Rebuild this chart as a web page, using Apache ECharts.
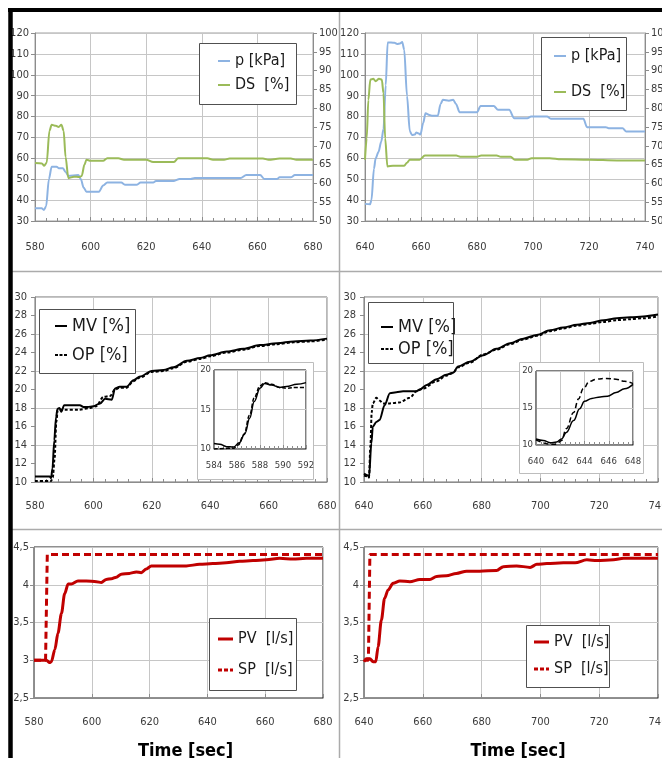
<!DOCTYPE html>
<html><head><meta charset="utf-8">
<script src="https://cdn.jsdelivr.net/npm/echarts@6/dist/echarts.min.js"></script>
<style>html,body{margin:0;padding:0;background:#fff}#c{width:662px;height:758px}</style>
</head><body><div id="c"></div>
<script>
// ---------- DATA ----------
// Top-left: pressure p [kPa] (left axis) and DS [%] (right axis), t = 580..680 s
const pLeft = [[580,36.1],[582.4,36.1],[583.2,35.3],[584,37],[585,50],[586,56],[587.8,56],[588.5,55.3],[590,55.3],[591,53.5],[592,51.6],[595.6,52],[596.5,50],[597.5,46],[598.5,44],[603,44],[604.5,47],[606,48.4],[611,48.4],[612.5,47.3],[616.5,47.3],[618,48.4],[622.5,48.4],[623.5,49.2],[630,49.2],[632,50.1],[636,50.1],[637.5,50.6],[654,50.6],[656,52],[661,52],[662.5,50.1],[667,50.1],[668,50.9],[672,50.9],[673.5,52],[680,52]];
const dsLeft = [[580,65.4],[582.5,65.3],[583.3,64.7],[584.2,65.5],[585.2,74],[586,75.6],[587.5,75.3],[588.5,75],[589.5,75.6],[590.3,74],[591,67],[592,61.4],[594,61.8],[596,61.7],[596.8,62],[597.8,65],[598.5,66.3],[600,66],[604.5,66],[606,66.7],[610,66.7],[612,66.3],[620,66.3],[622.5,65.7],[630,65.7],[631.5,66.7],[642,66.7],[644,66.3],[648,66.3],[650,66.6],[662,66.6],[664,66.3],[668,66.6],[672,66.6],[674,66.3],[680,66.3]];
// Top-right: t = 640..740 s
const pRight = [[640,38.2],[641.8,38],[642.3,40],[643.2,55],[643.8,60],[644.8,63],[645.8,68],[646.6,74],[647.4,95],[648.1,115.5],[650.5,115.3],[651.5,114.7],[652.5,115],[653.3,115.7],[654,112],[655,90],[656,73],[656.8,71.2],[657.8,71.4],[658.3,72.4],[659,72],[659.8,71.4],[660.8,77],[661.6,81.6],[663,80.8],[664,80.4],[666,80.4],[667,86],[667.8,88],[670,87.6],[671.5,88],[672.5,86],[673.8,82.1],[680,82.1],[681.3,85.1],[686,85.1],[687.5,83.2],[691.5,83.2],[693.3,79.2],[698,79.2],[699.3,80],[705,80],[706.5,78.9],[718,78.9],[719.3,74.9],[726,74.9],[727,74.4],[732,74.4],[733.3,72.8],[740,72.8]];
const dsRight = [[640,66.3],[640.6,72],[641.2,82.2],[641.9,87.6],[643,87.8],[643.8,87.2],[645,87.8],[646,87.6],[646.6,84],[647.2,72],[648,64.5],[650,64.7],[654,64.7],[655,65.5],[656,66.3],[659.5,66.3],[661.4,67.4],[672.6,67.4],[674,67.1],[680,67.1],[681.5,67.4],[687,67.4],[688.5,67.1],[692,67.1],[693.5,66.3],[698,66.3],[699.5,66.7],[706,66.7],[710,66.4],[720,66.3],[730,66.1],[740,66.1]];
// Middle: MV [%] and OP [%]
const mvLeft = [[580,10.6],[585,10.6],[585.5,10.4],[586,11.5],[586.6,14.5],[587.2,17],[587.7,17.9],[588.4,18],[589,17.6],[590,18.3],[595.4,18.3],[596.6,18.1],[598,18.1],[600,18.2],[602.3,18.5],[604,19],[606.3,18.9],[607.4,20.1],[609,20.3],[611.4,20.3],[613.7,21],[616,21.4],[620,22],[624,22.1],[627.4,22.4],[632,23.1],[636.6,23.4],[640,23.7],[645.7,24.1],[651.4,24.4],[657,24.8],[662.9,25],[668.6,25.2],[674.3,25.3],[680,25.5]];
const opLeft = [[580,10.1],[585.5,10.1],[586.1,10.5],[586.7,12.5],[587.3,16.5],[587.8,17.8],[590,17.8],[595,17.8],[598.9,18],[601,18.2],[603.4,19.2],[605.7,19.3],[607.4,20],[609,20.2],[611.4,20.2],[613.7,20.9],[616,21.3],[620,21.9],[624,22],[627.4,22.3],[632,23],[636.6,23.3],[640,23.6],[645.7,24],[651.4,24.3],[657,24.7],[662.9,24.9],[668.6,25.1],[674.3,25.2],[680,25.4]];
const mvRight = [[640,10.9],[641.4,10.7],[641.7,10.5],[642.5,14.2],[643,16],[644.2,16.5],[645.3,16.7],[647,18.3],[648.8,19.6],[651,19.7],[653.3,19.8],[657.8,19.8],[659,20],[661.3,20.5],[664.7,21.1],[668,21.6],[670.3,21.8],[672,22.5],[676,23],[680.6,23.7],[685,24.4],[689.7,25],[694.2,25.5],[698.8,25.9],[703.3,26.4],[707.8,26.7],[712.4,27],[716.9,27.2],[721.5,27.5],[726,27.7],[730.6,27.8],[735,27.9],[740,28.1]];
const opRight = [[640,10.7],[641.4,10.6],[641.7,10.5],[642.2,14],[642.6,17.5],[643,18.5],[644.2,19.1],[645.3,18.8],[646.5,18.5],[648.8,18.5],[652,18.6],[655.6,19.1],[657.8,19.8],[660,20.1],[664.7,20.9],[668,21.5],[670.3,21.8],[672,22.4],[676,22.9],[680.6,23.8],[685,24.3],[689.7,24.9],[694.2,25.4],[698.8,25.8],[703.3,26.3],[707.8,26.6],[712.4,26.9],[716.9,27.1],[721.5,27.3],[726,27.5],[730.6,27.6],[735,27.7],[740,27.9]];
// Insets (zoom on the step)
const mvInsetL = [[584,10.7],[584.5,10.6],[585.1,10.3],[585.7,10.25],[586.2,10.8],[586.7,12],[587.1,13.9],[587.5,16],[588,17.7],[588.4,18.3],[589,18.1],[589.7,17.8],[590.3,17.9],[591.2,18.2],[592,18.4]];
const opInsetL = [[584,10],[585.7,10.1],[586.1,10.5],[586.6,11.8],[587.1,14.3],[587.5,16.5],[588,18],[588.4,18.4],[589,18.2],[589.7,17.8],[590.3,17.7],[591.2,17.8],[592,17.8]];
const mvInsetR = [[640,10.8],[640.6,10.6],[641.2,10.3],[641.7,10.4],[642.1,10.8],[642.5,11.7],[643.1,13.3],[643.6,14.9],[644,15.9],[644.6,16.3],[645.3,16.5],[645.9,16.6],[646.6,17.1],[647.3,17.6],[648,18.2]];
const opInsetR = [[640,10.7],[641.2,10.1],[641.7,10.1],[642.1,10.6],[642.5,12.2],[643.1,14.4],[643.5,16.2],[643.9,17.6],[644.4,18.6],[645,18.9],[645.8,19],[646.6,18.9],[647.3,18.6],[648,18.3]];
// Bottom: PV [l/s] and SP [l/s]
const pvLeft = [[580,3.0],[584.3,3.0],[585.4,2.97],[586,2.98],[587.2,3.14],[588.3,3.36],[589.5,3.62],[590.6,3.88],[591.8,4.01],[592.9,4.01],[595.2,4.05],[598.1,4.05],[601.6,4.04],[603.3,4.03],[605,4.07],[606.8,4.08],[608.5,4.1],[610.2,4.14],[613,4.15],[615.4,4.17],[617.1,4.16],[618.9,4.21],[620.6,4.25],[623.5,4.25],[628.1,4.25],[632.7,4.25],[637.3,4.27],[641.9,4.28],[646.5,4.29],[651.2,4.31],[655.8,4.32],[660.4,4.33],[665,4.35],[669.6,4.34],[674.2,4.35],[680,4.35]];
const spLeft = [[580,3.0],[584,3.0],[584.6,4.4],[680,4.4]];
const pvRight = [[640,2.98],[640.8,3.02],[642,3.02],[643.1,2.98],[644,2.98],[644.8,3.18],[645.9,3.53],[647,3.82],[648.2,3.93],[649.9,4.02],[652.2,4.05],[655.6,4.04],[659,4.07],[662.4,4.07],[664.7,4.11],[668,4.12],[671.4,4.15],[674.9,4.18],[679.4,4.18],[685.1,4.19],[687.4,4.24],[691.9,4.25],[696.5,4.23],[698.8,4.27],[702.2,4.28],[707.8,4.29],[711.8,4.29],[715.8,4.33],[719.2,4.32],[724.9,4.33],[728.3,4.35],[732.8,4.35],[740,4.35]];
const spRight = [[640,3.0],[641.5,3.0],[642,4.4],[740,4.4]];
// Series names / axis texts
const namesTop = ['p [kPa]', 'DS  [%]'];
const namesMid = ['MV [%]', 'OP [%]'];
const namesBot = ['PV  [l/s]', 'SP  [l/s]'];
const xAxisTitle = 'Time [sec]';

// ---------- STYLE / LAYOUT ----------
const F = '"DejaVu Sans Condensed","Liberation Sans Narrow",sans-serif';
const LBL = {fontFamily: F, fontSize: 11, color: '#3a3a3a'};
const AX = '#8c8c8c', GRIDC = '#c6c6c6';

function xAx(gi, min, max, step, margin, minor, extra) {
  return Object.assign({
    type: 'value', gridIndex: gi, min: min, max: max, interval: step,
    axisLine: {show: true, onZero: false, lineStyle: {color: AX}},
    axisTick: {show: true, inside: true, length: 4, lineStyle: {color: AX}},
    minorTick: {show: minor, splitNumber: 5, length: 3, lineStyle: {color: AX}},
    splitLine: {show: true, lineStyle: {color: GRIDC}},
    axisLabel: Object.assign({}, LBL, {margin: margin})
  }, extra || {});
}
function yAx(gi, min, max, step, pos, split, margin, extra) {
  return Object.assign({
    type: 'value', gridIndex: gi, min: min, max: max, interval: step, position: pos,
    axisLine: {show: true, onZero: false, lineStyle: {color: AX}},
    axisTick: {show: true, inside: false, length: 4, lineStyle: {color: AX}},
    splitLine: {show: split, lineStyle: {color: GRIDC}},
    axisLabel: Object.assign({}, LBL, {margin: margin})
  }, extra || {});
}
// hidden axis used only for gridlines (every 4 units on the MV/OP panels)
function gridOnlyY(gi, min, max, step) {
  return {type: 'value', gridIndex: gi, min: min, max: max, interval: step, position: 'left',
    axisLine: {show: false}, axisTick: {show: false}, axisLabel: {show: false},
    splitLine: {show: true, lineStyle: {color: GRIDC}}};
}
function ln(name, data, xi, yi, color, width, dash, smooth, z) {
  return {type: 'line', name: name, data: data, xAxisIndex: xi, yAxisIndex: yi,
    symbol: 'none', smooth: smooth, smoothMonotone: 'x', animation: false, z: z || 3,
    lineStyle: {color: color, width: width, type: dash || 'solid'}, itemStyle: {color: color}};
}
const BLUE = '#8db3e2', GREEN = '#9bbb59', RED = '#c00000';
const commaFmt = v => String(v).replace('.', ',');

const grids = [
  {left: 35, top: 33, width: 278, height: 188, borderColor: '#a0a0a0'},
  {left: 365, top: 33, width: 280, height: 188, borderColor: '#a0a0a0'},
  {left: 35, top: 297, width: 292, height: 185, borderColor: '#707070'},
  {left: 364, top: 297, width: 294, height: 185, borderColor: '#707070'},
  {left: 34, top: 547, width: 289, height: 151, borderColor: '#202020'},
  {left: 364, top: 547, width: 294, height: 151, borderColor: '#202020'},
  {left: 214, top: 370, width: 92, height: 79, borderColor: '#000', z: 20},
  {left: 536, top: 371, width: 97, height: 74, borderColor: '#000', z: 20}
].map(g => Object.assign({show: true, borderWidth: 1, backgroundColor: 'transparent',
  containLabel: false, outerBoundsMode: 'none'}, g));

const timeName = {name: xAxisTitle, nameLocation: 'middle', nameGap: 44,
  nameTextStyle: {fontFamily: F, fontSize: 18, fontWeight: 'bold', color: '#000', padding: [0, 0, 0, 14]}};
const inLbl = {fontFamily: F, fontSize: 9.5, color: '#3a3a3a'};

const xAxes = [
  xAx(0, 580, 680, 20, 21, true),
  xAx(1, 640, 740, 20, 21, true),
  xAx(2, 580, 680, 20, 19, true),
  xAx(3, 640, 740, 20, 19, true),
  xAx(4, 580, 680, 20, 19, false, timeName),
  xAx(5, 640, 740, 20, 19, false, timeName),
  xAx(6, 584, 592, 2, 12, true, {z: 21, axisLabel: Object.assign({}, inLbl, {margin: 12})}),
  xAx(7, 640, 648, 2, 12, true, {z: 21, axisLabel: Object.assign({}, inLbl, {margin: 12})})
];
const yAxes = [
  yAx(0, 30, 120, 10, 'left', true, 6),
  yAx(0, 50, 100, 5, 'right', false, 6),
  yAx(1, 30, 120, 10, 'left', true, 6),
  yAx(1, 50, 100, 5, 'right', false, 6),
  yAx(2, 10, 30, 2, 'left', false, 8),
  yAx(3, 10, 30, 2, 'left', false, 8),
  yAx(4, 2.5, 4.5, 0.5, 'left', true, 5, {axisLabel: Object.assign({}, LBL, {margin: 5, formatter: commaFmt})}),
  yAx(5, 2.5, 4.5, 0.5, 'left', true, 5, {axisLabel: Object.assign({}, LBL, {margin: 5, formatter: commaFmt})}),
  yAx(6, 10, 20, 5, 'left', true, 3, {z: 21, axisTick: {show: false}, axisLabel: Object.assign({}, inLbl, {margin: 3})}),
  yAx(7, 10, 20, 5, 'left', true, 3, {z: 21, axisTick: {show: false}, axisLabel: Object.assign({}, inLbl, {margin: 3})}),
  gridOnlyY(2, 10, 30, 4),
  gridOnlyY(3, 10, 30, 4)
];

const series = [
  ln(namesTop[0], pLeft, 0, 0, BLUE, 2, null, 0.3),
  ln(namesTop[1], dsLeft, 0, 1, GREEN, 2, null, 0.3),
  ln(namesTop[0], pRight, 1, 2, BLUE, 2, null, 0.3),
  ln(namesTop[1], dsRight, 1, 3, GREEN, 2, null, 0.3),
  ln(namesMid[0], mvLeft, 2, 4, '#000', 2, null, 0.3),
  ln(namesMid[1], opLeft, 2, 4, '#000', 2, [3, 2], 0.3),
  ln(namesMid[0], mvRight, 3, 5, '#000', 2, null, 0.3),
  ln(namesMid[1], opRight, 3, 5, '#000', 2, [3, 2], 0.3),
  ln(namesBot[0], pvLeft, 4, 6, RED, 3, null, 0.3),
  ln(namesBot[1], spLeft, 4, 6, RED, 3, [7, 4], false),
  ln(namesBot[0], pvRight, 5, 7, RED, 3, null, 0.3),
  ln(namesBot[1], spRight, 5, 7, RED, 3, [7, 4], false),
  ln('MV inset L', mvInsetL, 6, 8, '#000', 1.5, null, 0.4, 22),
  ln('OP inset L', opInsetL, 6, 8, '#000', 1.5, [4, 2], 0.4, 22),
  ln('MV inset R', mvInsetR, 7, 9, '#000', 1.5, null, 0.4, 22),
  ln('OP inset R', opInsetR, 7, 9, '#000', 1.5, [5, 3], 0.4, 22)
];

// legend line icons (solid / dashed) as paths
const SOLID2 = 'path://M0,0H12V2H0Z';
const DASH2 = 'path://M0,0H3V2H0Z M4.5,0H7.5V2H4.5Z M9,0H12V2H9Z';
const SOLID3 = 'path://M0,0H15V3H0Z';
const DASH3 = 'path://M0,0H4V3H0Z M6,0H10V3H6Z M12,0H15V3H12Z';

function lg(data, icons, left, top, iw, ih, fs, gap) {
  return {data: data.map((n, i) => ({name: n, icon: icons[i]})), left: left, top: top,
    orient: 'vertical', itemWidth: iw, itemHeight: ih, itemGap: gap, padding: 0,
    selectedMode: false, z: 12,
    textStyle: {fontFamily: F, fontSize: fs, color: '#1a1a1a'}};
}
const legends = [
  lg(namesTop, [SOLID2, SOLID2], 218, 53, 12, 18, 16, 8),
  lg(namesTop, [SOLID2, SOLID2], 554, 48, 12, 18, 16, 20),
  lg(namesMid, [SOLID2, DASH2], 55, 317, 12, 20, 18, 11),
  lg(namesMid, [SOLID2, DASH2], 381, 318, 12, 20, 18, 4),
  lg(namesBot, [SOLID3, DASH3], 218, 631, 15, 18, 16, 15),
  lg(namesBot, [SOLID3, DASH3], 534, 634, 15, 18, 16, 11)
];

function rect(x, y, w, h, stroke, z) {
  return {type: 'rect', shape: {x: x + 0.5, y: y + 0.5, width: w, height: h},
    style: {fill: '#fff', stroke: stroke, lineWidth: 1}, z: z, silent: true};
}
function line(x1, y1, x2, y2, stroke, w) {
  return {type: 'line', shape: {x1: x1, y1: y1, x2: x2, y2: y2},
    style: {stroke: stroke, lineWidth: w}, z: 40, silent: true};
}
const graphics = [
  rect(197, 362, 116, 117, '#bdbdbd', 10),
  rect(519, 362, 124, 111, '#bdbdbd', 10),
  rect(199, 43, 97, 61, '#505050', 10),
  rect(541, 37, 85, 73, '#505050', 10),
  rect(39, 309, 96, 64, '#505050', 10),
  rect(368, 302, 85, 61, '#505050', 10),
  rect(209, 618, 87, 72, '#505050', 10),
  rect(526, 625, 83, 62, '#505050', 10),
  line(339.5, 12, 339.5, 758, '#ababab', 1.5),
  line(12, 271.5, 662, 271.5, '#ababab', 1.5),
  line(12, 529.5, 662, 529.5, '#ababab', 1.5),
  line(8, 10, 662, 10, '#000', 4),
  line(10.5, 8, 10.5, 758, '#000', 4.5)
];

const chart = echarts.init(document.getElementById('c'), null, {renderer: 'canvas'});
chart.setOption({
  animation: false,
  backgroundColor: '#fff',
  grid: grids, xAxis: xAxes, yAxis: yAxes, series: series,
  legend: legends,
  graphic: {elements: graphics}
});
</script></body></html>
